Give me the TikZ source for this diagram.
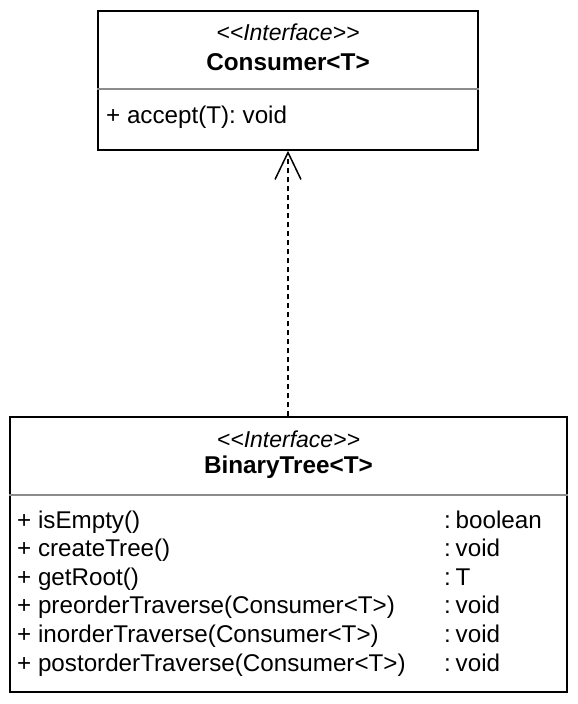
\documentclass[tikz,border=0pt]{standalone}
\usepackage{fontspec}
\setmainfont{Liberation Sans}[Ligatures=TeXOff]
\usepackage{tikz}
\usetikzlibrary{calc}
\usetikzlibrary{arrows.meta}
\usetikzlibrary{positioning}
\tikzset{classbox/.style={rectangle,draw=black,line width=1.5pt,inner sep=0pt}}
\tikzset{stereo/.style={font=\fontsize{23}{26}\selectfont\itshape,inner sep=0pt}}
\tikzset{cname/.style={font=\fontsize{24.3}{28}\selectfont\bfseries,inner sep=0pt}}
\tikzset{member/.style={font=\fontsize{24.2}{28}\selectfont,inner sep=0pt,anchor=west,text height=17pt,text depth=5pt}}
\tikzset{sepline/.style={draw=black!45,line width=1.5pt}}

\begin{document}
\begin{tikzpicture}[x=1pt,y=-1pt]
\useasboundingbox (0,0) rectangle (578,704);

% Consumer<T>
\node[classbox,minimum width=380pt,minimum height=139pt] (consumer) at (288,80.5) {};
\node[stereo] (cst) at (288,32) {<<Interface>>};
\node[cname] (cnm) at (288,62) {Consumer<T>};
\draw[sepline] (consumer.west |- 0,89) -- (consumer.east |- 0,89);
\node[member] (acc) at (106,117) {+ accept(T): void};

% BinaryTree<T>
\node[classbox,minimum width=557pt,minimum height=275pt] (tree) at (288.5,554.5) {};
\node[stereo] (tst) at (288.5,439) {<<Interface>>};
\node[cname] (tnm) at (288.5,467) {BinaryTree<T>};
\draw[sepline] (tree.west |- 0,495) -- (tree.east |- 0,495);
\foreach \m/\t [count=\i] in {isEmpty()/boolean, createTree()/void, getRoot()/T,
  preorderTraverse(Consumer<T>)/void, inorderTraverse(Consumer<T>)/void,
  postorderTraverse(Consumer<T>)/void}
  {
 \pgfmathsetmacro{\y}{522+28.6*(\i-1)}
 \node[member] (m\i) at (17,\y) {+ \m};
 \node[member] (t\i) at (444,\y) {:\hspace{0.2em}\t};
 }

\draw[line width=1.5pt,dash pattern=on 5pt off 4pt,-{Straight Barb[length=27pt,width=26pt]}]
  (tree.north -| consumer.south) -- (consumer.south);

\end{tikzpicture}
\end{document}
